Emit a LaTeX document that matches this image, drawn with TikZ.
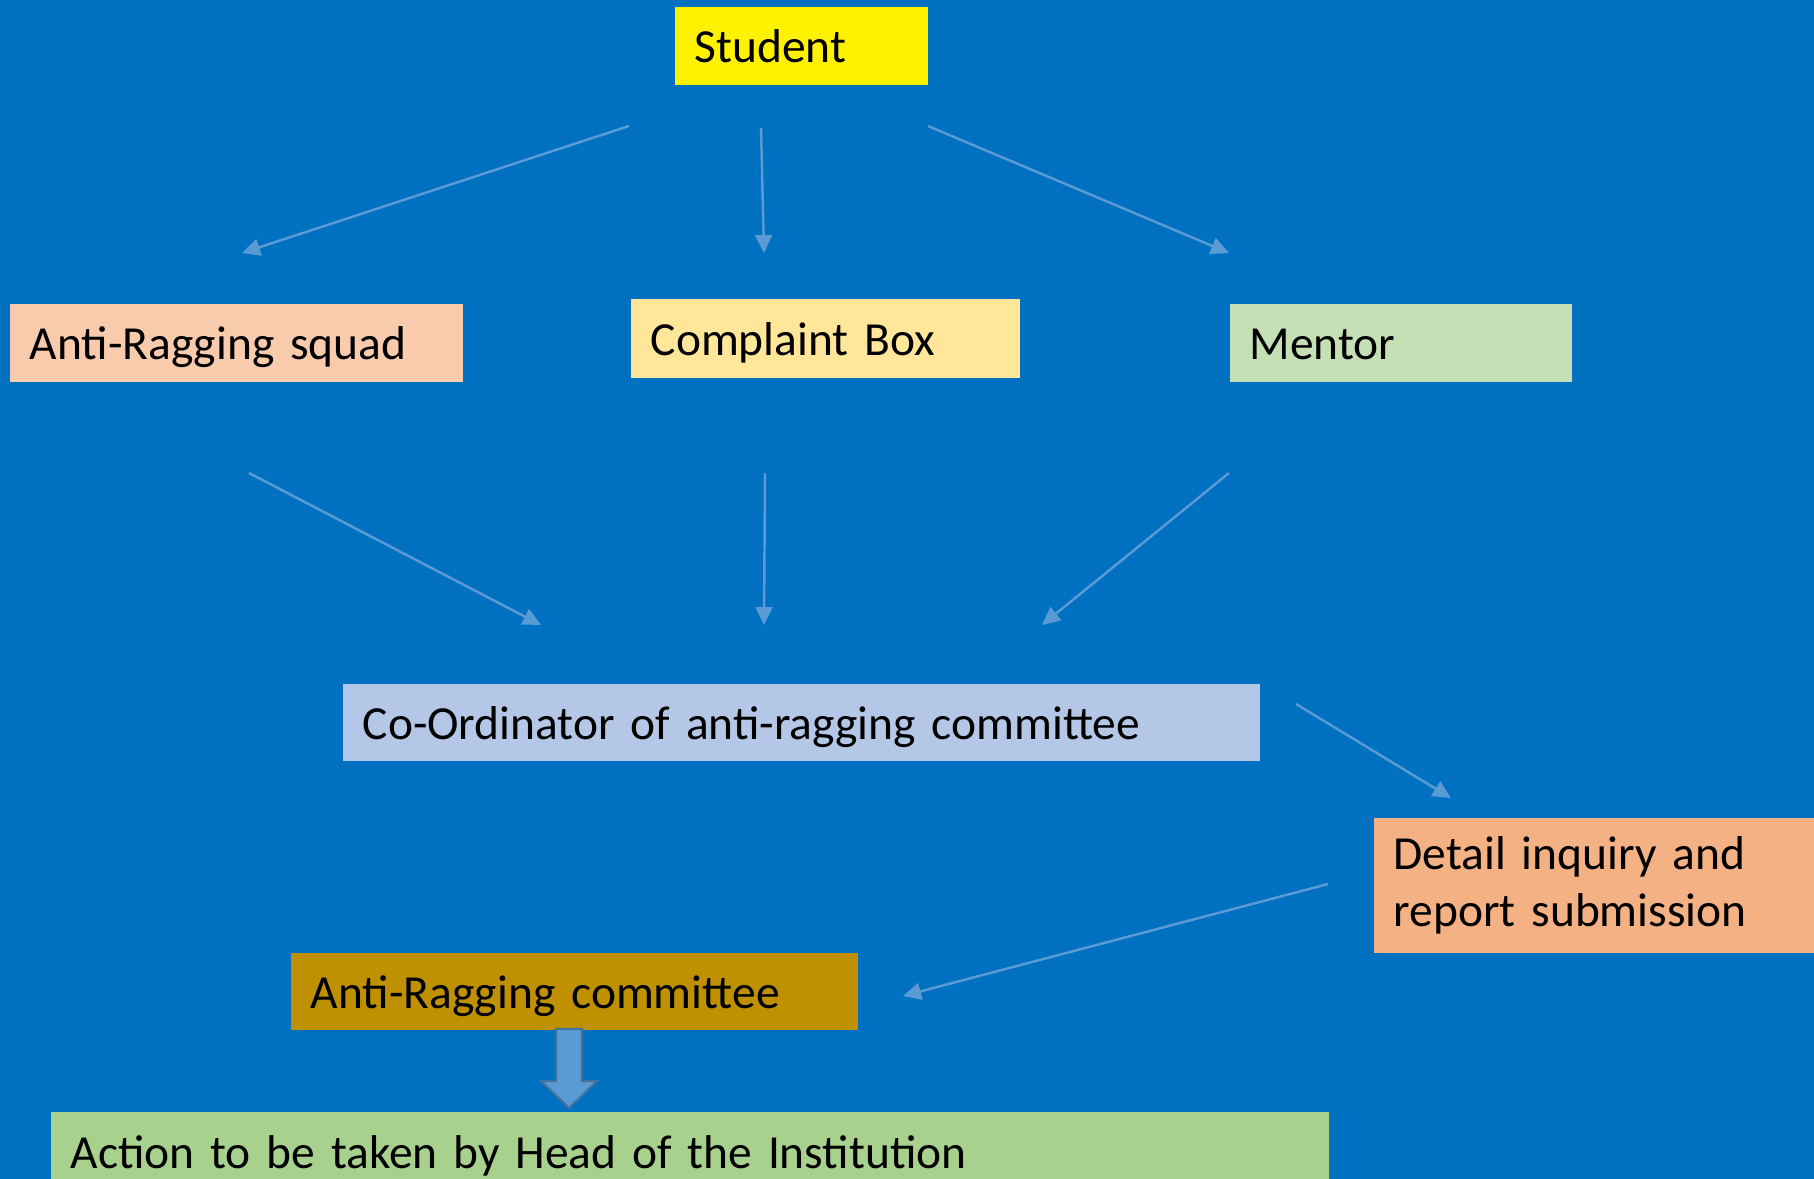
\documentclass[tikz,border=0pt]{standalone}
\usepackage{fontspec}
\setmainfont[WordSpace=0.7]{Carlito}
\usepackage{xcolor}
\usepackage{tikz}
\usetikzlibrary{arrows.meta, positioning}

\definecolor{bgblue}{HTML}{0070C0}
\definecolor{lineblue}{HTML}{5B9BD5}
\definecolor{edgeblue}{HTML}{41719C}
\definecolor{squadc}{HTML}{F8CBAD}
\definecolor{boxc}{HTML}{FFE699}
\definecolor{mentorc}{HTML}{C5E0B4}
\definecolor{coordc}{HTML}{B4C7E7}
\definecolor{detailc}{HTML}{F4B183}
\definecolor{committeec}{HTML}{BF9000}
\definecolor{actionc}{HTML}{A9D18E}

\begin{document}
\begin{tikzpicture}[x=0.01cm,y=-0.01cm,>={Triangle[length=0.18cm,width=0.17cm]},
    flow/.style={rectangle,anchor=north west,inner xsep=0.2cm,inner ysep=0pt,
        font=\fontsize{13.5}{16}\selectfont},
    oneline/.style={flow,text height=12.6pt,text depth=3pt},
    link/.style={->,color=lineblue,line width=0.7pt}]
        % background
        \useasboundingbox (0,0) rectangle (1814,1179);
        \fill[bgblue] (0,0) rectangle (1814,1179);

        % boxes
        \node[oneline,fill=yellow,text width=2.13cm,minimum height=0.78cm](student) at (674,6){Student};
        \node[oneline,fill=squadc,text width=4.13cm,minimum height=0.78cm](squad) at (9,303){Anti-Ragging squad};
        \node[oneline,fill=boxc,text width=3.49cm,minimum height=0.79cm](cbox) at (630,298){Complaint Box};
        \node[oneline,fill=mentorc,text width=3.02cm,minimum height=0.78cm](mentor) at (1229,303){Mentor};
        \node[oneline,fill=coordc,text width=8.77cm,minimum height=0.77cm](coord) at (342,683){Co-Ordinator of anti-ragging committee};
        \node[flow,fill=detailc,text width=4.01cm,minimum height=1.35cm](detail) at (1373,817){Detail inquiry and\\report submission};
        \node[oneline,fill=committeec,text width=5.27cm,minimum height=0.77cm](committee) at (290,952){Anti-Ragging committee};
        \node[oneline,fill=actionc,text width=12.38cm,minimum height=0.80cm](action) at (50,1111){Action to be taken by Head of the Institution};

        % arrow ends
        \coordinate (s1) at (629,126);  \coordinate (e1) at (242,253);
        \coordinate (s2) at (761,128);  \coordinate (e2) at (764,253);
        \coordinate (s3) at (928,126);  \coordinate (e3) at (1229,253);
        \coordinate (s4) at (249,473);  \coordinate (e4) at (541,625);
        \coordinate (s5) at (765,473);  \coordinate (e5) at (764,625);
        \coordinate (s6) at (1229,473); \coordinate (e6) at (1042,625);
        \coordinate (s7) at (1296,704); \coordinate (e7) at (1451,798);
        \coordinate (s8) at (1328,884); \coordinate (e8) at (903,996);

        \draw[link] (s1) -- (e1);
        \draw[link] (s2) -- (e2);
        \draw[link] (s3) -- (e3);
        \draw[link] (s4) -- (e4);
        \draw[link] (s5) -- (e5);
        \draw[link] (s6) -- (e6);
        \draw[link] (s7) -- (e7);
        \draw[link] (s8) -- (e8);

        % block arrow committee -> action
        \draw[fill=lineblue,draw=edgeblue,line width=0.6pt]
            (556,1029) -- (582,1029) -- (582,1081) -- (597,1081) -- (569,1108)
            -- (541,1081) -- (556,1081) -- cycle;
\end{tikzpicture}
\end{document}
